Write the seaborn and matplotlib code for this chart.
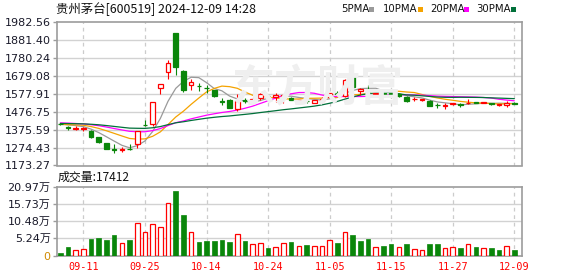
import numpy as np
import pandas as pd
import matplotlib
matplotlib.use('Agg')
import matplotlib.pyplot as plt
import seaborn as sns
from matplotlib.patches import Rectangle

# ---------------- data ----------------
dates = ['09-06', '09-09', '09-10', '09-11', '09-12', '09-13', '09-18', '09-19', '09-20', '09-23',
         '09-24', '09-25', '09-26', '09-27', '09-30', '10-08', '10-09', '10-10', '10-11', '10-14',
         '10-15', '10-16', '10-17', '10-18', '10-21', '10-22', '10-23', '10-24', '10-25', '10-28',
         '10-29', '10-30', '10-31', '11-01', '11-04', '11-05', '11-06', '11-07', '11-08', '11-11',
         '11-12', '11-13', '11-14', '11-15', '11-18', '11-19', '11-20', '11-21', '11-22', '11-25',
         '11-26', '11-27', '11-28', '11-29', '12-02', '12-03', '12-04', '12-05', '12-06', '12-09']

opens = [1410, 1389, 1381, 1379, 1368, 1334, 1300, 1265, 1261, 1268,
         1292, 1403, 1405, 1608, 1699, 1920, 1706, 1630, 1624, 1612,
         1599, 1537, 1545, 1492, 1543, 1535, 1556, 1567, 1558, 1565,
         1556, 1531, 1539, 1527, 1539, 1558, 1582, 1565, 1670, 1596,
         1592, 1575, 1582, 1580, 1578, 1561, 1546, 1542, 1539, 1517,
         1508, 1520, 1519, 1523, 1530, 1527, 1523, 1512, 1516, 1528]
highs = [1413, 1398, 1394, 1390, 1372, 1336, 1301, 1292, 1276, 1292,
         1370, 1430, 1532, 1633, 1770, 1922, 1710, 1662, 1640, 1627,
         1601, 1556, 1548, 1574, 1556, 1561, 1584, 1576, 1580, 1578,
         1560, 1544, 1546, 1545, 1558, 1583, 1595, 1660, 1678, 1610,
         1627, 1584, 1586, 1584, 1581, 1563, 1558, 1550, 1543, 1528,
         1524, 1528, 1528, 1546, 1533, 1532, 1526, 1522, 1535, 1531]
lows = [1402, 1375, 1373, 1370, 1330, 1300, 1266, 1246, 1251, 1262,
        1270, 1398, 1398, 1575, 1661, 1685, 1590, 1600, 1595, 1584,
        1562, 1514, 1495, 1482, 1528, 1528, 1543, 1546, 1533, 1528,
        1540, 1528, 1528, 1525, 1528, 1555, 1569, 1560, 1603, 1571,
        1576, 1570, 1574, 1568, 1562, 1533, 1539, 1537, 1510, 1499,
        1492, 1515, 1505, 1520, 1525, 1524, 1514, 1508, 1505, 1520]
closes = [1406, 1386, 1384, 1382, 1334, 1308, 1268, 1262, 1264, 1264,
          1368, 1400, 1530, 1631, 1749, 1731, 1598, 1646, 1620, 1608,
          1565, 1533, 1498, 1539, 1539, 1548, 1575, 1563, 1569, 1570,
          1543, 1540, 1536, 1543, 1548, 1580, 1579, 1655, 1618, 1603,
          1588, 1581, 1578, 1572, 1565, 1539, 1549, 1546, 1511, 1514,
          1514, 1523, 1515, 1527, 1527, 1530, 1519, 1520, 1523, 1522]

# closes before the visible window (estimated; only used for the moving averages)
prior_closes = [1398, 1405, 1410, 1402, 1396, 1400, 1408, 1412, 1403, 1396,
                1415, 1426, 1430, 1424, 1418, 1421, 1428, 1425, 1419, 1414,
                1404, 1398, 1402, 1409, 1411, 1403, 1407, 1410, 1405]

# volume in 万手
volumes = [0.80, 2.66, 1.74, 2.05, 4.90, 5.40, 4.60, 6.10, 3.90, 4.60,
           10.00, 7.26, 9.70, 8.80, 15.85, 19.63, 12.27, 7.26, 4.00, 4.30,
           4.30, 4.60, 4.00, 6.65, 4.30, 3.60, 3.90, 2.15, 2.66, 3.90,
           4.00, 2.97, 3.07, 2.97, 2.76, 4.60, 3.68, 7.26, 6.13, 4.30,
           4.90, 2.66, 2.76, 3.37, 2.66, 3.37, 2.05, 1.74, 3.37, 3.37,
           2.35, 2.45, 2.15, 3.58, 2.45, 2.35, 2.15, 1.53, 2.97, 1.7412]
vol_up_idx = [2, 3, 8, 10, 11, 12, 13, 14, 17, 23, 25, 26, 28, 29, 31, 33, 34, 35,
              37, 41, 44, 46, 47, 50, 51, 53, 55, 58]

ma_periods = [5, 10, 20, 30]
ma_names = ['5PMA', '10PMA', '20PMA', '30PMA']
ma_colors = ['#9a9a9a', '#f5a300', '#ff00ff', '#00703a']

tick_dates = ['09-11', '09-25', '10-14', '10-24', '11-05', '11-15', '11-27', '12-09']
price_ticks = [1173.27, 1274.43, 1375.59, 1476.75, 1577.91, 1679.08, 1780.24, 1881.40, 1982.56]
vol_ticks = [0, 5.24, 10.48, 15.73, 20.97]
vol_tick_labels = ['0', '5.24万', '10.48万', '15.73万', '20.97万']

title = '贵州茅台[600519] 2024-12-09 14:28'

# ---------------- style ----------------
sns.set_theme(style='white')
plt.rcParams['font.family'] = ['DejaVu Sans', 'Noto Sans CJK SC']
plt.rcParams['axes.linewidth'] = 1.2

UP = '#ff0000'
DOWN = '#0a860a'
SPINE = '#9c9c9c'
GRID = '#d2d2d2'

W, H = 578, 276
fig = plt.figure(figsize=(W / 100, H / 100), dpi=100)
fig.patch.set_facecolor('white')


def fx(px):
    return px / W


def fy(py):
    return 1 - py / H


L, R = 57, 522
ax = fig.add_axes([fx(L), fy(165.5), fx(R) - fx(L), fy(22) - fy(165.5)])
axv = fig.add_axes([fx(L), fy(255.5), fx(R) - fx(L), fy(186.7) - fy(255.5)])

n = len(closes)
x = np.arange(n)
o = np.array(opens, float)
h = np.array(highs, float)
lo = np.array(lows, float)
c = np.array(closes, float)
up = c > o
col = np.where(up, UP, DOWN)
bhi = np.maximum(o, c)
blo = np.minimum(o, c)
tick_idx = [dates.index(d) for d in tick_dates]

# watermark
fig.text(fx(318), fy(88), '东方财富', fontsize=31, color='#efefef', ha='center', va='center',
         family=['Noto Sans CJK SC'], fontweight='bold', zorder=0)

for a in (ax, axv):
    a.set_facecolor('none')
    for t in tick_idx:
        a.axvline(t, color='#cccccc', lw=0.9, ls=(0, (3, 3)), zorder=0.5)
    for s in a.spines.values():
        s.set_color(SPINE)
        s.set_linewidth(1.2)
    a.set_xlim(-0.43, 60.0)

# ---------- candles ----------
for yv in price_ticks[1:-1]:
    ax.axhline(yv, color=GRID, lw=1.0, zorder=0.4)
ax.vlines(x, bhi, h, colors=col, lw=0.8, zorder=3)
ax.vlines(x, lo, blo, colors=col, lw=0.8, zorder=3)
ax.bar(x, bhi - blo, bottom=blo, width=0.6,
       color=np.where(up, 'white', DOWN), edgecolor=col, linewidth=0.9, zorder=4)

# moving averages
all_c = pd.Series(prior_closes + closes, dtype=float)
for p, name, mc in zip(ma_periods, ma_names, ma_colors):
    ma = all_c.rolling(p).mean().iloc[len(prior_closes):].to_numpy()
    sns.lineplot(x=x, y=ma, color=mc, lw=0.9, ax=ax, zorder=2)

ax.set_ylim(price_ticks[0], price_ticks[-1])
ax.set_yticks(price_ticks)
ax.set_yticklabels([f'{v:.2f}' for v in price_ticks])
ax.set_xticks([])
ax.tick_params(axis='y', length=3, width=1, color=SPINE, labelsize=8, pad=1.5,
               labelcolor='#1a1a2a', left=True)

# ---------- volume ----------
vdir = ['up' if i in vol_up_idx else 'down' for i in range(n)]
vdf = pd.DataFrame({'idx': x, 'vol': volumes, 'dir': vdir})
sns.barplot(data=vdf, x='idx', y='vol', hue='dir', palette={'up': UP, 'down': DOWN},
            dodge=False, native_scale=True, width=0.6, saturation=1, legend=False,
            errorbar=None, ax=axv, zorder=3)
for ptch in axv.patches:
    fc = ptch.get_facecolor()
    if fc[0] > 0.9 and fc[1] < 0.2:
        ptch.set_facecolor('white')
        ptch.set_edgecolor(UP)
        ptch.set_linewidth(0.9)
    else:
        ptch.set_edgecolor(DOWN)
        ptch.set_linewidth(0.5)

for yv in vol_ticks[1:-1]:
    axv.axhline(yv, color=GRID, lw=1.0, zorder=0.4)
axv.set_ylim(0, vol_ticks[-1])
axv.set_yticks(vol_ticks)
axv.set_yticklabels(vol_tick_labels)
axv.set_xlim(-0.43, 60.0)
axv.set_xticks(tick_idx)
axv.set_xticklabels(tick_dates, family=['DejaVu Sans Mono'], fontsize=7.3, color=UP)
axv.set_xlabel('')
axv.set_ylabel('')
axv.tick_params(axis='x', length=0, pad=5)
axv.tick_params(axis='y', length=3, width=1, color=SPINE, labelsize=8, pad=1.5,
                labelcolor='#1a1a2a', left=True)
axv.get_yticklabels()[0].set_color('#d08a00')

# ---------- texts ----------
fig.text(fx(56), fy(9.5), title, fontsize=8.95, color='#111111', ha='left', va='center',
         family=['Noto Sans CJK SC', 'DejaVu Sans'])
fig.text(fx(58), fy(177), f'成交量:{round(volumes[-1] * 10000)}', fontsize=8.6, color='#111111',
         ha='left', va='center', family=['Noto Sans CJK SC', 'DejaVu Sans'])

leg_x = [341, 383, 430, 476]
sq_x = [369, 418, 464, 511]
for name, mc, tx, sx in zip(ma_names, ma_colors, leg_x, sq_x):
    fig.text(fx(tx), fy(9.5), name, fontsize=7.3, color='#111111', ha='left', va='center',
             family=['DejaVu Sans'])
    fig.patches.append(Rectangle((fx(sx), fy(11.5)), 5 / W, 4.5 / H, transform=fig.transFigure,
                                 facecolor=mc, edgecolor='none'))

fig.savefig('out.png', dpi=100, facecolor='white')
